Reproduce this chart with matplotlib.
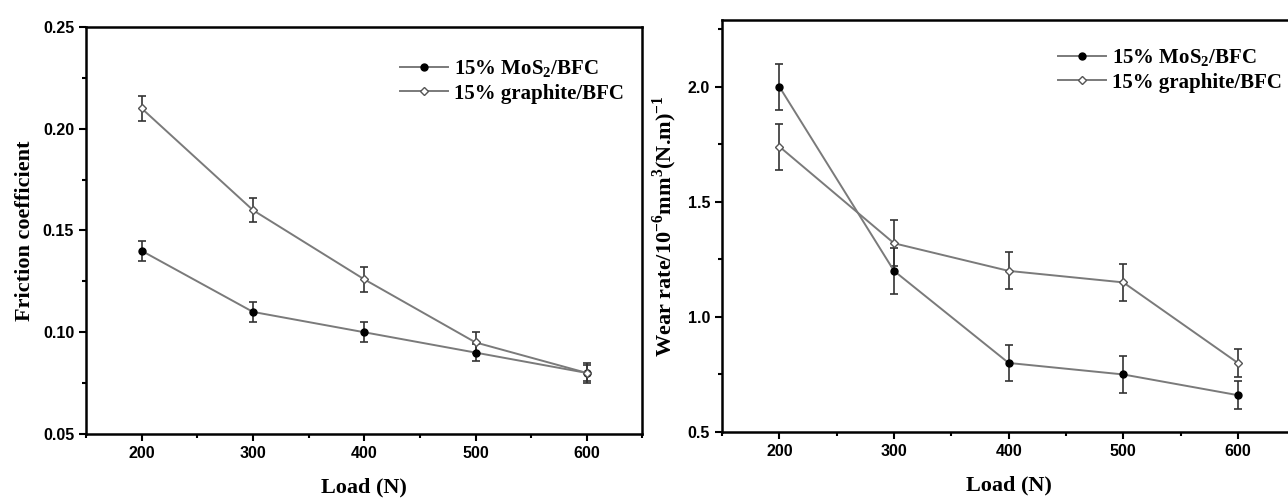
import matplotlib
matplotlib.use('Agg')
import matplotlib.pyplot as plt
from matplotlib.ticker import MultipleLocator

# data
load = [200, 300, 400, 500, 600]

fric_mos2 = [0.140, 0.110, 0.100, 0.090, 0.080]
fric_mos2_err = [0.005, 0.005, 0.005, 0.004, 0.005]
fric_graph = [0.210, 0.160, 0.126, 0.095, 0.080]
fric_graph_err = [0.006, 0.006, 0.006, 0.005, 0.004]

wear_mos2 = [2.00, 1.20, 0.80, 0.75, 0.66]
wear_mos2_err = [0.10, 0.10, 0.08, 0.08, 0.06]
wear_graph = [1.74, 1.32, 1.20, 1.15, 0.80]
wear_graph_err = [0.10, 0.10, 0.08, 0.08, 0.06]

label_mos2 = '15% MoS$_\\mathbf{2}$/BFC'
label_graph = '15% graphite/BFC'

plt.rcParams['mathtext.fontset'] = 'custom'
plt.rcParams['mathtext.rm'] = 'Liberation Serif:bold'
plt.rcParams['mathtext.bf'] = 'Liberation Serif:bold'

serif = {'family': 'Liberation Serif', 'weight': 'bold'}
line_col = '#7a7a7a'
err_col = '#333333'

fig = plt.figure(figsize=(12.88, 5), dpi=100)
ax1 = fig.add_axes([0.0668, 0.132, 0.432, 0.814])
ax2 = fig.add_axes([0.5606, 0.136, 0.445, 0.824])


def draw(ax, y1, e1, y2, e2, anchor):
    c1 = ax.errorbar(load, y1, yerr=e1, color=line_col, ecolor=err_col, elinewidth=1.2,
                     capsize=3, capthick=1.2, lw=1.4, marker='o', ms=5,
                     mfc='black', mec='black', zorder=3)
    c2 = ax.errorbar(load, y2, yerr=e2, color=line_col, ecolor=err_col, elinewidth=1.2,
                     capsize=3, capthick=1.2, lw=1.4, marker='D', ms=4,
                     mfc='white', mec='#555555', zorder=3)
    ax.set_xlim(150, 650)
    ax.xaxis.set_major_locator(MultipleLocator(100))
    ax.xaxis.set_minor_locator(MultipleLocator(50))
    ax.tick_params(which='both', direction='out', width=1.5)
    ax.tick_params(which='major', length=5, labelsize=11.5)
    ax.tick_params(which='minor', length=3)
    for s in ax.spines.values():
        s.set_linewidth(1.8)
    ax.set_xlabel('Load (N)', fontdict=serif, fontsize=16, labelpad=12)
    ax.legend([c1[0], c2[0]], [label_mos2, label_graph], loc='upper right',
              frameon=False, handlelength=2.3,
              prop={'family': 'Liberation Serif', 'weight': 'bold', 'size': 15},
              bbox_to_anchor=anchor, labelspacing=0.2, handletextpad=0.3)


draw(ax1, fric_mos2, fric_mos2_err, fric_graph, fric_graph_err, (1.0, 0.97))
ax1.set_ylim(0.05, 0.25)
ax1.yaxis.set_major_locator(MultipleLocator(0.05))
ax1.yaxis.set_minor_locator(MultipleLocator(0.025))
ax1.yaxis.set_major_formatter(plt.FormatStrFormatter('%.2f'))
ax1.set_ylabel('Friction coefficient', fontdict=serif, fontsize=16, labelpad=6)

draw(ax2, wear_mos2, wear_mos2_err, wear_graph, wear_graph_err, (1.01, 0.98))
ax2.set_ylim(0.5, 2.29)
ax2.yaxis.set_major_locator(MultipleLocator(0.5))
ax2.yaxis.set_minor_locator(MultipleLocator(0.25))
ax2.yaxis.set_major_formatter(plt.FormatStrFormatter('%.1f'))
ax2.set_ylabel('Wear rate/10$^{-6}$mm$^{3}$(N.m)$^{-1}$', fontdict=serif, fontsize=16, labelpad=6)

for ax in (ax1, ax2):
    for lab in ax.get_xticklabels() + ax.get_yticklabels():
        lab.set_fontweight('bold')
        lab.set_family('Liberation Sans')

fig.savefig('out.png', dpi=100)
